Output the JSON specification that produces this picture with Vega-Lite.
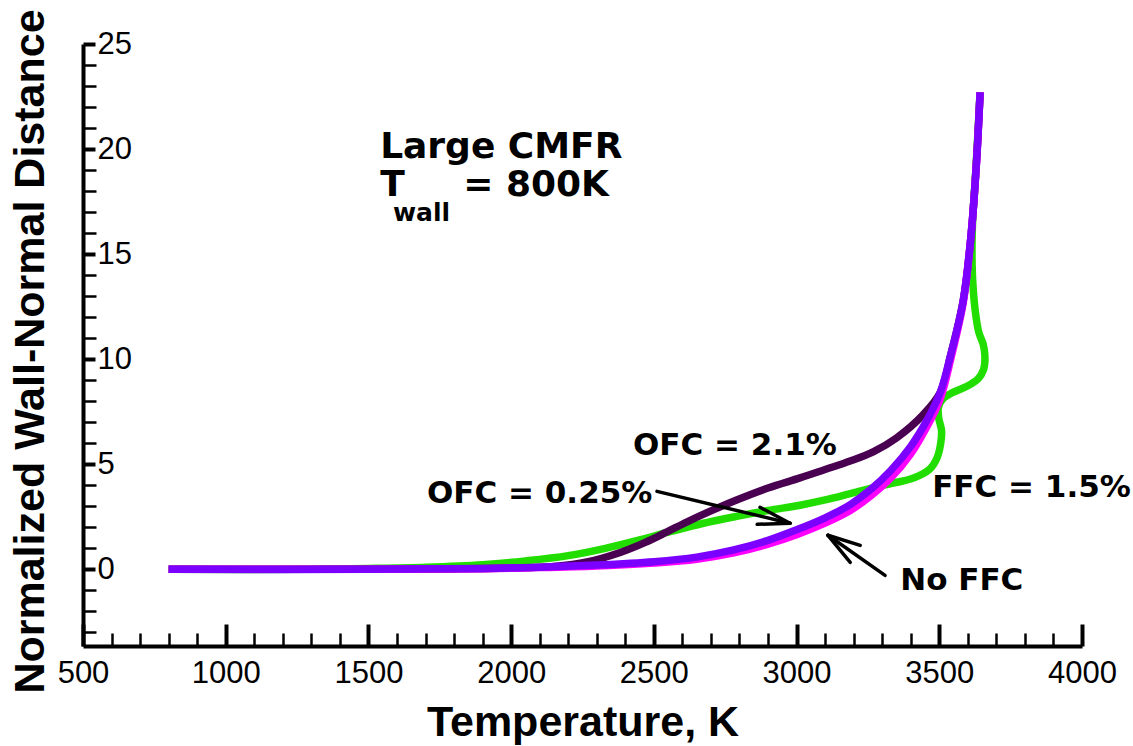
{
  "$schema": "https://vega.github.io/schema/vega-lite/v6.json",
  "width": 999,
  "height": 602,
  "autosize": {"type": "none"},
  "padding": {"left": 83, "top": 44, "right": 51, "bottom": 100},
  "config": {"view": {"stroke": null}, "font": "Liberation Sans", "axis": {"grid": false}},
  "datasets": {
    "curves": [
      {"s": "FFC = 1.5%", "T": 800, "Y": 0},
      {"s": "FFC = 1.5%", "T": 1300, "Y": 0.0},
      {"s": "FFC = 1.5%", "T": 1500, "Y": 0.04},
      {"s": "FFC = 1.5%", "T": 1700, "Y": 0.1},
      {"s": "FFC = 1.5%", "T": 1900, "Y": 0.22},
      {"s": "FFC = 1.5%", "T": 2050, "Y": 0.4},
      {"s": "FFC = 1.5%", "T": 2200, "Y": 0.65},
      {"s": "FFC = 1.5%", "T": 2330, "Y": 1.0},
      {"s": "FFC = 1.5%", "T": 2450, "Y": 1.4},
      {"s": "FFC = 1.5%", "T": 2560, "Y": 1.8},
      {"s": "FFC = 1.5%", "T": 2670, "Y": 2.18},
      {"s": "FFC = 1.5%", "T": 2790, "Y": 2.52},
      {"s": "FFC = 1.5%", "T": 2900, "Y": 2.8},
      {"s": "FFC = 1.5%", "T": 3012, "Y": 3.05},
      {"s": "FFC = 1.5%", "T": 3100, "Y": 3.3},
      {"s": "FFC = 1.5%", "T": 3188, "Y": 3.6},
      {"s": "FFC = 1.5%", "T": 3303, "Y": 4.0},
      {"s": "FFC = 1.5%", "T": 3410, "Y": 4.35},
      {"s": "FFC = 1.5%", "T": 3465, "Y": 4.75},
      {"s": "FFC = 1.5%", "T": 3492, "Y": 5.3},
      {"s": "FFC = 1.5%", "T": 3505, "Y": 6.0},
      {"s": "FFC = 1.5%", "T": 3508, "Y": 6.6},
      {"s": "FFC = 1.5%", "T": 3498, "Y": 7.2},
      {"s": "FFC = 1.5%", "T": 3497, "Y": 7.7},
      {"s": "FFC = 1.5%", "T": 3512, "Y": 8.1},
      {"s": "FFC = 1.5%", "T": 3545, "Y": 8.4},
      {"s": "FFC = 1.5%", "T": 3595, "Y": 8.7},
      {"s": "FFC = 1.5%", "T": 3635, "Y": 9.05},
      {"s": "FFC = 1.5%", "T": 3655, "Y": 9.5},
      {"s": "FFC = 1.5%", "T": 3660, "Y": 10.1},
      {"s": "FFC = 1.5%", "T": 3654, "Y": 10.7},
      {"s": "FFC = 1.5%", "T": 3638, "Y": 11.3},
      {"s": "FFC = 1.5%", "T": 3626, "Y": 12.3},
      {"s": "FFC = 1.5%", "T": 3619, "Y": 13.3},
      {"s": "FFC = 1.5%", "T": 3615, "Y": 14.5},
      {"s": "FFC = 1.5%", "T": 3616, "Y": 16.3},
      {"s": "FFC = 1.5%", "T": 3628, "Y": 19},
      {"s": "FFC = 1.5%", "T": 3643, "Y": 22.7},

      {"s": "OFC = 2.1%", "T": 800, "Y": 0},
      {"s": "OFC = 2.1%", "T": 1500, "Y": 0},
      {"s": "OFC = 2.1%", "T": 1800, "Y": 0.02},
      {"s": "OFC = 2.1%", "T": 2000, "Y": 0.06},
      {"s": "OFC = 2.1%", "T": 2150, "Y": 0.14},
      {"s": "OFC = 2.1%", "T": 2266, "Y": 0.35},
      {"s": "OFC = 2.1%", "T": 2382, "Y": 0.8},
      {"s": "OFC = 2.1%", "T": 2470, "Y": 1.28},
      {"s": "OFC = 2.1%", "T": 2546, "Y": 1.78},
      {"s": "OFC = 2.1%", "T": 2615, "Y": 2.25},
      {"s": "OFC = 2.1%", "T": 2700, "Y": 2.78},
      {"s": "OFC = 2.1%", "T": 2790, "Y": 3.3},
      {"s": "OFC = 2.1%", "T": 2900, "Y": 3.87},
      {"s": "OFC = 2.1%", "T": 3012, "Y": 4.35},
      {"s": "OFC = 2.1%", "T": 3100, "Y": 4.75},
      {"s": "OFC = 2.1%", "T": 3188, "Y": 5.15},
      {"s": "OFC = 2.1%", "T": 3270, "Y": 5.6},
      {"s": "OFC = 2.1%", "T": 3350, "Y": 6.25},
      {"s": "OFC = 2.1%", "T": 3443, "Y": 7.35},
      {"s": "OFC = 2.1%", "T": 3503, "Y": 8.4},
      {"s": "OFC = 2.1%", "T": 3540, "Y": 10.2},
      {"s": "OFC = 2.1%", "T": 3584, "Y": 12.8},
      {"s": "OFC = 2.1%", "T": 3612, "Y": 16.0},
      {"s": "OFC = 2.1%", "T": 3630, "Y": 19.3},
      {"s": "OFC = 2.1%", "T": 3643, "Y": 22.7},

      {"s": "No FFC", "T": 800, "Y": 0},
      {"s": "No FFC", "T": 1500, "Y": 0},
      {"s": "No FFC", "T": 1900, "Y": 0.03},
      {"s": "No FFC", "T": 2100, "Y": 0.08},
      {"s": "No FFC", "T": 2300, "Y": 0.16},
      {"s": "No FFC", "T": 2500, "Y": 0.3},
      {"s": "No FFC", "T": 2650, "Y": 0.48},
      {"s": "No FFC", "T": 2780, "Y": 0.78},
      {"s": "No FFC", "T": 2900, "Y": 1.2},
      {"s": "No FFC", "T": 3000, "Y": 1.65},
      {"s": "No FFC", "T": 3100, "Y": 2.2},
      {"s": "No FFC", "T": 3188, "Y": 2.8},
      {"s": "No FFC", "T": 3260, "Y": 3.5},
      {"s": "No FFC", "T": 3330, "Y": 4.35},
      {"s": "No FFC", "T": 3400, "Y": 5.5},
      {"s": "No FFC", "T": 3457, "Y": 6.8},
      {"s": "No FFC", "T": 3503, "Y": 8.1},
      {"s": "No FFC", "T": 3540, "Y": 10.0},
      {"s": "No FFC", "T": 3584, "Y": 12.7},
      {"s": "No FFC", "T": 3612, "Y": 16.0},
      {"s": "No FFC", "T": 3630, "Y": 19.3},
      {"s": "No FFC", "T": 3643, "Y": 22.7},

      {"s": "OFC = 0.25%", "T": 800, "Y": 0},
      {"s": "OFC = 0.25%", "T": 1500, "Y": 0},
      {"s": "OFC = 0.25%", "T": 1900, "Y": 0.04},
      {"s": "OFC = 0.25%", "T": 2100, "Y": 0.1},
      {"s": "OFC = 0.25%", "T": 2300, "Y": 0.2},
      {"s": "OFC = 0.25%", "T": 2500, "Y": 0.36},
      {"s": "OFC = 0.25%", "T": 2650, "Y": 0.58},
      {"s": "OFC = 0.25%", "T": 2780, "Y": 0.92},
      {"s": "OFC = 0.25%", "T": 2900, "Y": 1.38},
      {"s": "OFC = 0.25%", "T": 3000, "Y": 1.88},
      {"s": "OFC = 0.25%", "T": 3100, "Y": 2.45},
      {"s": "OFC = 0.25%", "T": 3188, "Y": 3.08},
      {"s": "OFC = 0.25%", "T": 3260, "Y": 3.8},
      {"s": "OFC = 0.25%", "T": 3330, "Y": 4.7},
      {"s": "OFC = 0.25%", "T": 3400, "Y": 5.85},
      {"s": "OFC = 0.25%", "T": 3457, "Y": 7.1},
      {"s": "OFC = 0.25%", "T": 3503, "Y": 8.4},
      {"s": "OFC = 0.25%", "T": 3540, "Y": 10.2},
      {"s": "OFC = 0.25%", "T": 3584, "Y": 12.8},
      {"s": "OFC = 0.25%", "T": 3612, "Y": 16.0},
      {"s": "OFC = 0.25%", "T": 3630, "Y": 19.3},
      {"s": "OFC = 0.25%", "T": 3643, "Y": 22.7}
    ],
    "notes": [
      {"grp": "big", "label": "Large CMFR", "x": 1541, "y": 19.57},
      {"grp": "big", "label": "T", "x": 1541, "y": 17.76},
      {"grp": "big", "label": "= 800K", "x": 1832, "y": 17.76},
      {"grp": "sub", "label": "wall", "x": 1586, "y": 16.6},
      {"grp": "note", "label": "OFC = 2.1%", "x": 2427, "y": 5.43},
      {"grp": "note", "label": "OFC = 0.25%", "x": 1705, "y": 3.14},
      {"grp": "note", "label": "FFC = 1.5%", "x": 3475, "y": 3.43},
      {"grp": "note", "label": "No FFC", "x": 3363, "y": -1.0}
    ],
    "arrows": [
      {"x": 2511, "y": 3.71, "x2": 2977, "y2": 2.19},
      {"x": 2862, "y": 2.14, "x2": 2977, "y2": 2.19},
      {"x": 2872, "y": 2.95, "x2": 2977, "y2": 2.19},
      {"x": 3310, "y": -0.29, "x2": 3110, "y2": 1.62},
      {"x": 3223, "y": 1.14, "x2": 3110, "y2": 1.62},
      {"x": 3188, "y": 0.33, "x2": 3110, "y2": 1.62}
    ]
  },
  "layer": [
    {
      "data": {"name": "curves"},
      "mark": {"type": "line", "strokeWidth": 7.5, "strokeCap": "butt", "strokeJoin": "round", "interpolate": "catmull-rom"},
      "encoding": {
        "x": {
          "field": "T", "type": "quantitative",
          "scale": {"domain": [500, 4000], "nice": false, "zero": false},
          "axis": {
            "orient": "bottom",
            "values": [500, 1000, 1500, 2000, 2500, 3000, 3500, 4000],
            "format": "d",
            "grid": false,
            "domainColor": "black", "domainWidth": 4,
            "tickColor": "black", "tickWidth": 4, "tickSize": -22,
            "labelFont": "Liberation Sans", "labelFontSize": 31, "labelColor": "black",
            "labelPadding": 34, "labelFlush": false, "labelOverlap": false,
            "title": "Temperature, K",
            "titleFont": "Liberation Sans", "titleFontSize": 43, "titleFontWeight": "bold", "titleColor": "black",
            "titleBaseline": "alphabetic", "titleY": 89
          }
        },
        "y": {
          "field": "Y", "type": "quantitative",
          "scale": {"domain": [-3.65, 25], "nice": false, "zero": false},
          "axis": {
            "orient": "left",
            "values": [0, 5, 10, 15, 20, 25],
            "grid": false,
            "domainColor": "black", "domainWidth": 4,
            "tickColor": "black", "tickWidth": 4, "tickSize": -12,
            "labelFont": "Liberation Sans", "labelFontSize": 31, "labelColor": "black",
            "labelAlign": "left", "labelBaseline": "middle",
            "labelPadding": -2, "labelFlush": false, "labelOverlap": false,
            "title": "Normalized Wall-Normal Distance",
            "titleFont": "Liberation Sans", "titleFontSize": 43, "titleFontWeight": "bold", "titleColor": "black",
            "titleAngle": -90, "titleBaseline": "alphabetic", "titleAlign": "center",
            "titleX": -40, "titleY": 307
          }
        },
        "color": {
          "field": "s", "type": "nominal",
          "scale": {
            "domain": ["FFC = 1.5%", "OFC = 2.1%", "No FFC", "OFC = 0.25%"],
            "range": ["#22dd00", "#4a0050", "#ff00ff", "#7b00ff"]
          },
          "legend": null
        },
        "order": {"value": null}
      }
    },
    {
      "data": {"name": "arrows"},
      "mark": {"type": "rule", "strokeWidth": 3.5, "color": "black", "strokeCap": "round"},
      "encoding": {
        "x": {
          "field": "x", "type": "quantitative",
          "scale": {"domain": [500, 4000], "nice": false, "zero": false},
          "axis": {
            "orient": "bottom",
            "values": [600, 700, 800, 900, 1100, 1200, 1300, 1400, 1600, 1700, 1800, 1900, 2100, 2200, 2300, 2400, 2600, 2700, 2800, 2900, 3100, 3200, 3300, 3400, 3600, 3700, 3800, 3900],
            "grid": false, "domain": false, "labels": false, "title": null,
            "tickColor": "black", "tickWidth": 2.5, "tickSize": -13
          }
        },
        "y": {
          "field": "y", "type": "quantitative",
          "scale": {"domain": [-3.65, 25], "nice": false, "zero": false},
          "axis": {
            "orient": "left",
            "values": [-3, -2, -1, 1, 2, 3, 4, 6, 7, 8, 9, 11, 12, 13, 14, 16, 17, 18, 19, 21, 22, 23, 24],
            "grid": false, "domain": false, "labels": false, "title": null,
            "tickColor": "black", "tickWidth": 2.5, "tickSize": -13
          }
        },
        "x2": {"field": "x2"},
        "y2": {"field": "y2"}
      }
    },
    {
      "data": {"name": "notes"},
      "transform": [{"filter": "datum.grp === 'big'"}],
      "mark": {"type": "text", "font": "DejaVu Sans", "fontWeight": "bold", "fontSize": 36, "align": "left", "baseline": "alphabetic", "color": "black"},
      "encoding": {
        "x": {"field": "x", "type": "quantitative", "scale": {"domain": [500, 4000], "nice": false, "zero": false}, "axis": null},
        "y": {"field": "y", "type": "quantitative", "scale": {"domain": [-3.65, 25], "nice": false, "zero": false}, "axis": null},
        "text": {"field": "label"}
      }
    },
    {
      "data": {"name": "notes"},
      "transform": [{"filter": "datum.grp === 'sub'"}],
      "mark": {"type": "text", "font": "DejaVu Sans", "fontWeight": "bold", "fontSize": 25, "align": "left", "baseline": "alphabetic", "color": "black"},
      "encoding": {
        "x": {"field": "x", "type": "quantitative", "scale": {"domain": [500, 4000], "nice": false, "zero": false}, "axis": null},
        "y": {"field": "y", "type": "quantitative", "scale": {"domain": [-3.65, 25], "nice": false, "zero": false}, "axis": null},
        "text": {"field": "label"}
      }
    },
    {
      "data": {"name": "notes"},
      "transform": [{"filter": "datum.grp === 'note'"}],
      "mark": {"type": "text", "font": "DejaVu Sans", "fontWeight": "bold", "fontSize": 31, "align": "left", "baseline": "alphabetic", "color": "black"},
      "encoding": {
        "x": {"field": "x", "type": "quantitative", "scale": {"domain": [500, 4000], "nice": false, "zero": false}, "axis": null},
        "y": {"field": "y", "type": "quantitative", "scale": {"domain": [-3.65, 25], "nice": false, "zero": false}, "axis": null},
        "text": {"field": "label"}
      }
    }
  ],
  "resolve": {"axis": {"x": "independent", "y": "independent"}}
}
